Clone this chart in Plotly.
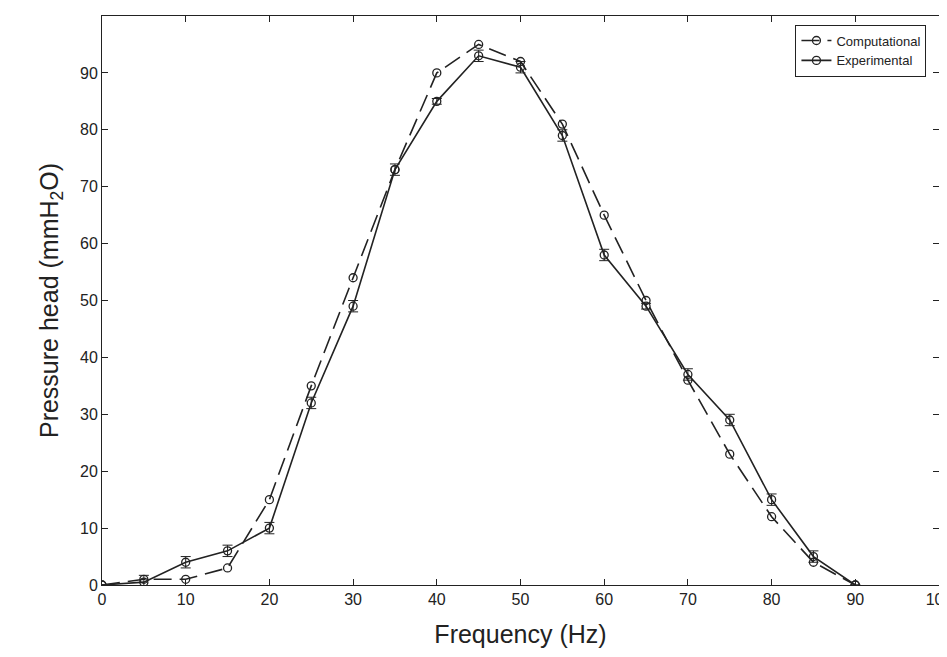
import plotly.graph_objects as go

freq = [0, 5, 10, 15, 20, 25, 30, 35, 40, 45, 50, 55, 60, 65, 70, 75, 80, 85, 90]
computational = [0, 1, 1, 3, 15, 35, 54, 73, 90, 95, 92, 81, 65, 50, 36, 23, 12, 4, 0]
experimental = [0, 0.5, 4, 6, 10, 32, 49, 73, 85, 93, 91, 79, 58, 49, 37, 29, 15, 5, 0]
exp_err = [0, 1.2, 1, 1, 1, 1, 1, 1, 0.5, 1, 1, 1, 1, 0.5, 1, 1, 1, 1, 0]

fig = go.Figure()
fig.add_trace(go.Scatter(x=freq, y=computational, name="Computational", mode="lines+markers",
                         line=dict(color="#222", width=1.6, dash="18px,8px"),
                         marker=dict(symbol="circle-open", size=8, color="#222", line=dict(width=1.3))))
fig.add_trace(go.Scatter(x=freq, y=experimental, name="Experimental", mode="lines+markers",
                         line=dict(color="#222", width=1.6),
                         marker=dict(symbol="circle-open", size=8, color="#222", line=dict(width=1.3)),
                         error_y=dict(type="data", array=exp_err, color="#222", thickness=1, width=5)))

ax = dict(showline=True, linecolor="#222", linewidth=1, mirror="ticks", ticks="inside",
          ticklen=6, tickcolor="#222", showgrid=False, zeroline=False, automargin=False,
          tickfont=dict(family="Liberation Sans, Arial", size=16, color="#222"),
          title_font=dict(family="Liberation Sans, Arial", size=25, color="#222"))
fig.update_xaxes(range=[0, 100], dtick=10, title_text="Frequency (Hz)", title_standoff=18, **ax)
fig.update_yaxes(range=[0, 100], dtick=10, title_text="Pressure head (mmH<sub>2</sub>O)", title_standoff=14, **ax)
fig.update_layout(width=947, height=657, plot_bgcolor="white", paper_bgcolor="white",
                  margin=dict(l=94, r=16, t=8, b=80),
                  legend=dict(x=0.985, y=0.985, xanchor="right", yanchor="top",
                              bordercolor="#222", borderwidth=1, bgcolor="white",
                              font=dict(family="Liberation Sans, Arial", size=13, color="#222")))
fig.write_html("out.html")
